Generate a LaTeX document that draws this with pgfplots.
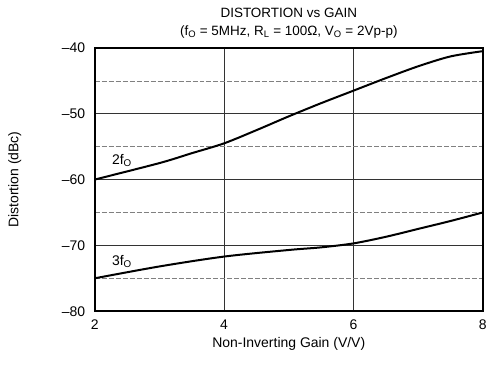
\documentclass[border=0pt]{standalone}
\usepackage{fontspec}
\setmainfont{Liberation Sans}
\usepackage{pgfplots}
\pgfplotsset{compat=1.18}
\begin{document}
\begin{tikzpicture}
  \begin{axis}[
      scale only axis,
      width=389pt, height=264pt,
      xmin=2, xmax=8, ymin=-80, ymax=-40,
      xtick={2,4,6,8},
      ytick={-80,-70,-60,-50,-40},
      yticklabels={–80,–70,–60,–50,–40},
      minor ytick={-75,-65,-55,-45},
      grid=both,
      major grid style={black!80, line width=0.5pt},
      minor grid style={gray, line width=0.5pt, dash pattern=on 5pt off 2pt},
      major tick length=0pt, minor tick length=0pt,
      axis line style={line width=1.5pt},
      /pgf/number format/assume math mode=true,
      tick label style={font=\fontsize{14}{16}\selectfont},
      xticklabel style={yshift=-5pt},
      yticklabel style={xshift=-6pt},
      label style={font=\fontsize{14}{16}\selectfont},
      xlabel={Non-Inverting Gain (V/V)},
      ylabel={Distortion (dBc)},
      xlabel style={yshift=-1pt},
      ylabel style={yshift=34pt},
      title style={font=\fontsize{13.5}{18}\selectfont, align=center, yshift=0pt},
      title={DISTORTION vs GAIN\\(f\textsubscript{O} = 5MHz, R\textsubscript{L} = 100Ω, V\textsubscript{O} = 2Vp-p)},
      clip=false,
    ]
    % 2fO
    \addplot[black, line width=2pt, smooth] coordinates {
      (2,-60) (3,-57.5) (3.5,-56.0) (4,-54.5) (4.5,-52.5) (5,-50.4)
      (5.5,-48.4) (6,-46.5) (6.5,-44.6) (7,-42.8) (7.5,-41.3) (8,-40.5)};
    % 3fO
    \addplot[black, line width=2pt, smooth] coordinates {
      (2,-75) (3,-73.2) (4,-71.7) (5,-70.7) (5.5,-70.3) (6,-69.7)
      (6.5,-68.7) (7,-67.5) (7.5,-66.3) (8,-65)};
    \node[font=\fontsize{14}{16}\selectfont] at (axis cs:2.42,-57.1) {2f\textsubscript{O}};
    \node[font=\fontsize{14}{16}\selectfont] at (axis cs:2.42,-72.4) {3f\textsubscript{O}};
  \end{axis}
  \path ([xshift=-95pt,yshift=-55pt]current axis.south west)
    rectangle ([xshift=6pt,yshift=48pt]current axis.north east);
\end{tikzpicture}
\end{document}
